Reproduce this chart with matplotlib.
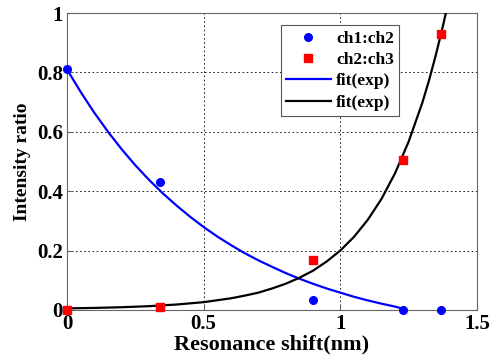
import numpy as np
import matplotlib
matplotlib.use("Agg")
import matplotlib.pyplot as plt

plt.rcParams['font.family'] = ['Liberation Serif', 'DejaVu Serif']
plt.rcParams['font.weight'] = 'bold'

# measured points
shift_pts = [0.0, 0.342, 0.899, 1.228, 1.368]
ch1_ch2 = [0.81, 0.43, 0.034, 0.0, 0.0]
ch2_ch3 = [0.0, 0.01, 0.168, 0.505, 0.929]

# fit curves
fit1_x = [0.0, 0.05, 0.1, 0.15, 0.2, 0.25, 0.3, 0.35, 0.4, 0.45, 0.5, 0.55,
          0.6, 0.65, 0.7, 0.75, 0.8, 0.85, 0.9, 0.95, 1.0, 1.05, 1.1, 1.15,
          1.2, 1.228]
fit1_y = [0.810, 0.734, 0.664, 0.600, 0.541, 0.487, 0.438, 0.393, 0.352,
          0.314, 0.279, 0.247, 0.218, 0.191, 0.167, 0.145, 0.124, 0.105,
          0.088, 0.072, 0.058, 0.044, 0.032, 0.021, 0.011, 0.004]
fit2_x = [0.0, 0.1, 0.2, 0.3, 0.4, 0.5, 0.6, 0.65, 0.7, 0.75, 0.8, 0.85, 0.9,
          0.95, 1.0, 1.05, 1.1, 1.15, 1.2, 1.25, 1.3, 1.325, 1.35, 1.375, 1.386]
fit2_y = [0.005, 0.0066, 0.0089, 0.0125, 0.018, 0.026, 0.039, 0.048, 0.058,
          0.072, 0.088, 0.108, 0.132, 0.163, 0.200, 0.246, 0.303, 0.373,
          0.460, 0.567, 0.698, 0.775, 0.861, 0.955, 1.0]

fig = plt.figure(figsize=(4.91, 3.62), dpi=100)
ax = fig.add_axes([0.1365, 0.144, 0.835, 0.820])

ax.plot(shift_pts, ch1_ch2, 'o', color='blue', markersize=5.5, clip_on=False,
        label='ch1:ch2', zorder=4)
ax.plot(shift_pts, ch2_ch3, 's', color='red', markersize=5.5, clip_on=False,
        label='ch2:ch3', zorder=4)
ax.plot(fit1_x, fit1_y, '-', color='blue', lw=1.6, label='fit(exp)', zorder=3)
ax.plot(fit2_x, fit2_y, '-', color='black', lw=1.6, label='fit(exp)', zorder=3)

ax.set_xlim(0, 1.5)
ax.set_ylim(0, 1)
ax.set_xticks([0, 0.5, 1, 1.5])
ax.set_xticklabels(['0', '0.5', '1', '1.5'])
ax.set_yticks([0, 0.2, 0.4, 0.6, 0.8, 1])
ax.set_yticklabels(['0', '0.2', '0.4', '0.6', '0.8', '1'])
ax.grid(True, linestyle=(0, (2, 3)), color='black', lw=0.6)
for s in ax.spines.values():
    s.set_color('#666666')
ax.tick_params(direction='in', length=4, color='#666666', labelsize=15, pad=3)

ax.set_xlabel('Resonance shift(nm)', fontsize=16, fontweight='bold', labelpad=0)
ax.set_ylabel('Intensity ratio', fontsize=14, fontweight='bold', labelpad=4)

leg = ax.legend(loc='upper left', bbox_to_anchor=(0.5, 0.988), fontsize=12.5,
                fancybox=False, framealpha=1, edgecolor='#555555',
                handlelength=2.6, borderpad=0.3, labelspacing=0.3,
                handletextpad=0.3)
leg.get_frame().set_linewidth(0.8)

fig.savefig('out.png', dpi=100)
